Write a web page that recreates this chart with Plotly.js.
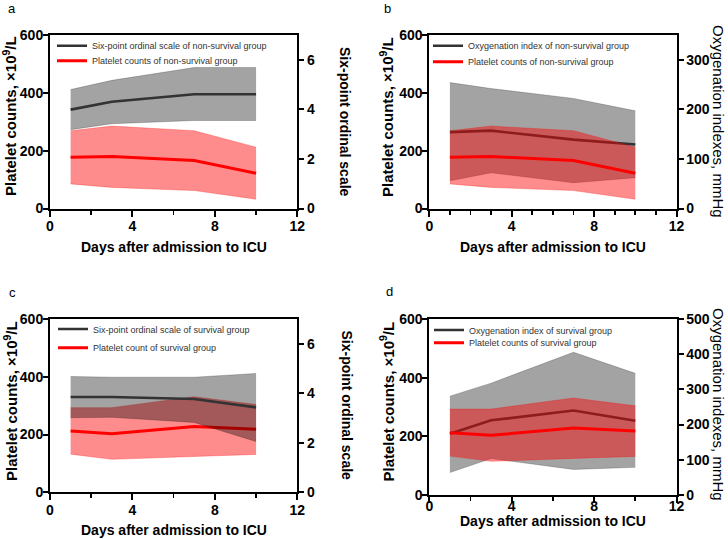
<!DOCTYPE html>
<html>
<head>
<meta charset="utf-8">
<script src="https://cdn.plot.ly/plotly-3.0.1.min.js"></script>
<style>
  body { margin: 0; background: #fff; }
  #chart { width: 728px; height: 539px; }
</style>
</head>
<body>
<div id="chart"></div>
<script>
// ---- data ----
const days = [1, 3, 7, 10];

// platelet counts, non-survival group (panels a, b)
const plateletNS = [177, 180, 166, 122];
const plateletNSUpper = [269, 285, 269, 212];
const plateletNSLower = [85, 73, 62, 32];

// six-point ordinal scale, non-survival group (panel a)
const ordinalNS = [3.99, 4.31, 4.61, 4.61];
const ordinalNSUpper = [4.80, 5.17, 5.69, 5.69];
const ordinalNSLower = [3.18, 3.42, 3.55, 3.55];

// oxygenation index, non-survival group (panel b)
const oxyNS = [154, 157, 139, 129];
const oxyNSUpper = [254, 242, 222, 197];
const oxyNSLower = [56, 72, 52, 62];

// platelet counts, survival group (panels c, d)
const plateletS = [212, 203, 228, 218];
const plateletSUpper = [293, 293, 331, 304];
const plateletSLower = [132, 114, 124, 131];

// six-point ordinal scale, survival group (panel c)
const ordinalS = [3.85, 3.85, 3.77, 3.43];
const ordinalSUpper = [4.68, 4.65, 4.65, 4.80];
const ordinalSLower = [3.01, 3.03, 2.82, 2.05];

// oxygenation index, survival group (panel d)
const oxyS = [174, 212, 240, 211];
const oxySUpper = [281, 318, 406, 346];
const oxySLower = [63, 103, 72, 78];

const panelLetters = ['a', 'b', 'c', 'd'];
const xTitle = 'Days after admission to ICU';
const plateletTitle = 'Platelet counts, ×10<sup>9</sup>/L';
const ordinalTitle = 'Six-point ordinal scale';
const oxyTitle = 'Oxygenation indexes, mmHg';

// ---- styling ----
const W = 728, H = 539;
const FONT = 'Liberation Sans, Arial, sans-serif';
const RED = '#ff0000';
const DARK = '#333333';
const RED_BAND = 'rgba(255,0,0,0.45)';
const GRAY_BAND = 'rgba(0,0,0,0.36)';

const px = x => x / W;
const py = y => 1 - y / H;

function band(lower, upper, xa, ya, color) {
    const common = {
        x: days, mode: 'lines', xaxis: xa, yaxis: ya,
        line: { color: color, width: 0.6 },
        showlegend: false, hoverinfo: 'skip'
    };
    return [
        Object.assign({ y: lower }, common),
        Object.assign({ y: upper, fill: 'tonexty', fillcolor: color }, common)
    ];
}

function line(y, xa, ya, color, width, name, legend) {
    return {
        x: days, y: y, mode: 'lines', xaxis: xa, yaxis: ya,
        line: { color: color, width: width },
        name: name, legend: legend, showlegend: true
    };
}

const data = [
    // a
    ...band(plateletNSLower, plateletNSUpper, 'x', 'y', RED_BAND),
    line(plateletNS, 'x', 'y', RED, 3, 'Platelet counts of non-survival group', 'legend2'),
    ...band(ordinalNSLower, ordinalNSUpper, 'x', 'y2', GRAY_BAND),
    line(ordinalNS, 'x', 'y2', DARK, 2.6, 'Six-point ordinal scale of non-survival group', 'legend'),
    // b (platelet axis overlays the oxygenation axis so red is on top)
    ...band(oxyNSLower, oxyNSUpper, 'x2', 'y3', GRAY_BAND),
    line(oxyNS, 'x2', 'y3', DARK, 2.6, 'Oxygenation index of non-survival group', 'legend3'),
    ...band(plateletNSLower, plateletNSUpper, 'x2', 'y4', RED_BAND),
    line(plateletNS, 'x2', 'y4', RED, 3, 'Platelet counts of non-survival group', 'legend4'),
    // c
    ...band(plateletSLower, plateletSUpper, 'x3', 'y5', RED_BAND),
    line(plateletS, 'x3', 'y5', RED, 3, 'Platelet count of survival group', 'legend6'),
    ...band(ordinalSLower, ordinalSUpper, 'x3', 'y6', GRAY_BAND),
    line(ordinalS, 'x3', 'y6', DARK, 2.6, 'Six-point ordinal scale of survival group', 'legend5'),
    // d
    ...band(oxySLower, oxySUpper, 'x4', 'y7', GRAY_BAND),
    line(oxyS, 'x4', 'y7', DARK, 2.6, 'Oxygenation index of survival group', 'legend7'),
    ...band(plateletSLower, plateletSUpper, 'x4', 'y8', RED_BAND),
    line(plateletS, 'x4', 'y8', RED, 3, 'Platelet counts of survival group', 'legend8')
];

const tickFont = { family: FONT, size: 14, color: '#000', weight: 'bold' };

function xAxis(domain, anchor, minorStep, standoff) {
    return {
        domain: domain, anchor: anchor, range: [0, 12], dtick: 4, tick0: 0,
        showline: true, linewidth: 2, linecolor: '#000', mirror: true,
        ticks: 'outside', ticklen: 6, tickwidth: 2, tickcolor: '#000',
        ticklabelstandoff: standoff,
        minor: { dtick: minorStep, ticks: 'outside', ticklen: 4, tickwidth: 1.6, tickcolor: '#000' },
        showgrid: false, zeroline: false, tickfont: tickFont, fixedrange: true
    };
}

function yAxis(opts) {
    return Object.assign({
        showline: true, linewidth: 2, linecolor: '#000',
        ticks: 'outside', ticklen: 5, tickwidth: 2, tickcolor: '#000',
        showgrid: false, zeroline: false, tickfont: tickFont, fixedrange: true
    }, opts);
}

// left (platelet) axes sit their labels a little closer to the axis line
function plateletAxis(opts) {
    return yAxis(Object.assign({ side: 'left', range: [0, 600], dtick: 200, ticklabelstandoff: -3 }, opts));
}

const xLeft = [px(50), px(297.3)];
const xRight = [px(429.3), px(676.5)];
const yTop = [py(208.5), py(35)];
const yBotL = [py(492.3), py(319)];
const yBotR = [py(494.7), py(319.3)];

function legendAt(x, y) {
    return {
        x: px(x), y: py(y), xanchor: 'left', yanchor: 'middle',
        bgcolor: 'rgba(0,0,0,0)', borderwidth: 0,
        font: { family: FONT, size: 9, color: '#333' }
    };
}

function label(text, x, y, size, angle, bold) {
    return {
        text: text, x: px(x), y: py(y), xref: 'paper', yref: 'paper',
        showarrow: false, xanchor: 'center', yanchor: 'middle', textangle: angle || 0,
        font: { family: FONT, size: size, color: '#000', weight: bold ? 'bold' : 'normal' }
    };
}

const annotations = [
    label(panelLetters[0], 12, 8, 13, 0, false),
    label(panelLetters[1], 387, 9, 13, 0, false),
    label(panelLetters[2], 12, 292, 13, 0, false),
    label(panelLetters[3], 389, 291, 13, 0, false),

    label(xTitle, 173.6, 247.5, 14, 0, true),
    label(xTitle, 553, 247.5, 14, 0, true),
    label(xTitle, 173.6, 530, 14, 0, true),
    label(xTitle, 553, 521, 14, 0, true),

    label(plateletTitle, 10, 116, 15, -90, true),
    label(plateletTitle, 386, 117, 15, -90, true),
    label(plateletTitle, 10, 401, 15, -90, true),
    label(plateletTitle, 387, 401.5, 15, -90, true),

    label(ordinalTitle, 345, 122, 14, 90, true),
    label(oxyTitle, 719, 121, 15, 90, false),
    label(ordinalTitle, 346.5, 405, 14, 90, true),
    label(oxyTitle, 719, 404, 15, 90, false)
];

const layout = {
    width: W, height: H,
    margin: { l: 0, r: 0, t: 0, b: 0 },
    paper_bgcolor: '#fff', plot_bgcolor: 'rgba(0,0,0,0)',
    font: { family: FONT, color: '#000' },
    hovermode: false,

    xaxis: xAxis(xLeft, 'y', 2, -2),
    yaxis: plateletAxis({ domain: yTop, anchor: 'x' }),
    yaxis2: yAxis({ anchor: 'x', overlaying: 'y', side: 'right', range: [0, 7], dtick: 2 }),

    xaxis2: xAxis(xRight, 'y3', 1, -2),
    yaxis3: yAxis({ domain: yTop, anchor: 'x2', side: 'right', range: [0, 350], dtick: 100 }),
    yaxis4: plateletAxis({ anchor: 'x2', overlaying: 'y3' }),

    xaxis3: xAxis(xLeft, 'y5', 2, -2),
    yaxis5: plateletAxis({ domain: yBotL, anchor: 'x3' }),
    yaxis6: yAxis({ anchor: 'x3', overlaying: 'y5', side: 'right', range: [0, 7], dtick: 2 }),

    xaxis4: xAxis(xRight, 'y7', 2, -9),
    yaxis7: yAxis({ domain: yBotR, anchor: 'x4', side: 'right', range: [0, 500], dtick: 100 }),
    yaxis8: plateletAxis({ anchor: 'x4', overlaying: 'y7' }),

    legend: legendAt(52, 45.7),
    legend2: legendAt(52, 60.7),
    legend3: legendAt(428, 45.7),
    legend4: legendAt(428, 61.7),
    legend5: legendAt(53, 329),
    legend6: legendAt(53, 347.7),
    legend7: legendAt(429, 330),
    legend8: legendAt(429, 342.7),

    annotations: annotations
};

Plotly.newPlot('chart', data, layout, { displayModeBar: false, staticPlot: true });
</script>
</body>
</html>
